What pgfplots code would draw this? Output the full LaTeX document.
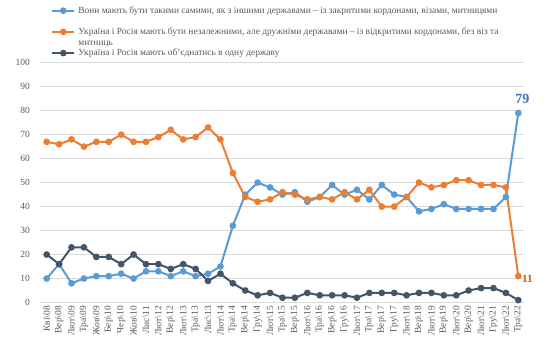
\documentclass[border=0pt]{standalone}
\usepackage{fontspec}
\setmainfont{Liberation Serif}
\usepackage{pgfplots}
\pgfplotsset{compat=1.18}
\definecolor{sblue}{HTML}{5B9BD5}
\definecolor{sorange}{HTML}{ED7D31}
\definecolor{sdark}{HTML}{44546A}
\definecolor{txt}{HTML}{595959}
\definecolor{gridc}{HTML}{D9D9D9}
\definecolor{lblue}{HTML}{3A74B2}
\definecolor{lorange}{HTML}{C55A11}
\newcommand\ls{\rule[-3pt]{0pt}{10.4pt}}
\begin{document}
\begin{tikzpicture}
\begin{axis}[
 name=ax,
 scale only axis, width=484pt, height=239.8pt,
 xmin=-0.5, xmax=38.5, ymin=0, ymax=100,
 clip=false,
 axis line style={draw=none},
 ytick={0,10,...,100},
 ymajorgrids, grid style={gridc, line width=0.75pt},
 xtick={0,...,38},
 xticklabels={Кві\textbackslash{}08,Вер\textbackslash{}08,Лют\textbackslash{}09,Тра\textbackslash{}09,Жов\textbackslash{}09,Бер\textbackslash{}10,Чер\textbackslash{}10,Жов\textbackslash{}10,Лис\textbackslash{}11,Лют\textbackslash{}12,Вер\textbackslash{}12,Лют\textbackslash{}13,Тра\textbackslash{}13,Лис\textbackslash{}13,Лют\textbackslash{}14,Тра\textbackslash{}14,Вер\textbackslash{}14,Гру\textbackslash{}14,Лют\textbackslash{}15,Тра\textbackslash{}15,Вер\textbackslash{}15,Лют\textbackslash{}16,Тра\textbackslash{}16,Вер\textbackslash{}16,Гру\textbackslash{}16,Лют\textbackslash{}17,Тра\textbackslash{}17,Вер\textbackslash{}17,Гру\textbackslash{}17,Лют\textbackslash{}18,Вер\textbackslash{}18,Лют\textbackslash{}19,Вер\textbackslash{}19,Лют\textbackslash{}20,Вер\textbackslash{}20,Лют\textbackslash{}21,Гру\textbackslash{}21,Лют\textbackslash{}22,Тра\textbackslash{}22},
 x tick label style={rotate=90, anchor=east, font=\fontsize{9.5}{10}\selectfont, text=txt},
 y tick label style={font=\fontsize{9.5}{10}\selectfont, text=txt, xshift=-7pt},
 major tick length=0pt,
 /pgf/number format/assume math mode=true,
 legend image code/.code={\draw[mark repeat=2,mark phase=2] plot coordinates {(0cm,0cm) (0.39cm,0cm) (0.78cm,0cm)};},
 legend cell align=left,
 legend style={at={(0.0217,1)}, anchor=south west, yshift=5pt, draw=none, fill=none,
   font=\fontsize{9.4}{10.4}\selectfont, row sep=1.7pt, column sep=3pt, inner sep=0pt,
   nodes={inner sep=0pt, text=txt}, cells={anchor=west}},
 every axis plot/.append style={line width=2pt, mark=*, mark size=2.3pt},
]
\addplot[sblue, mark options={fill=sblue, draw=sblue}] coordinates {
(0,10)(1,16)(2,8)(3,10)(4,11)(5,11)(6,12)(7,10)(8,13)(9,13)(10,11)(11,13)(12,11)(13,12)(14,15)(15,32)(16,45)(17,50)(18,48)(19,45)(20,46)(21,42)(22,44)(23,49)(24,45)(25,47)(26,43)(27,49)(28,45)(29,44)(30,38)(31,39)(32,41)(33,39)(34,39)(35,39)(36,39)(37,44)(38,79)};
\addlegendentry{\ls Вони мають бути такими самими, як з іншими державами – із закритими кордонами, візами, митницями}
\addlegendimage{empty legend}
\addlegendentry{\ls}
\addplot[sorange, mark options={fill=sorange, draw=sorange}] coordinates {
(0,67)(1,66)(2,68)(3,65)(4,67)(5,67)(6,70)(7,67)(8,67)(9,69)(10,72)(11,68)(12,69)(13,73)(14,68)(15,54)(16,44)(17,42)(18,43)(19,46)(20,45)(21,43)(22,44)(23,43)(24,46)(25,43)(26,47)(27,40)(28,40)(29,44)(30,50)(31,48)(32,49)(33,51)(34,51)(35,49)(36,49)(37,48)(38,11)};
\addlegendentry{\ls Україна і Росія мають бути незалежними, але дружніми державами – із відкритими кордонами, без віз та}
\addlegendimage{empty legend}
\addlegendentry{\ls митниць}
\addplot[sdark, mark options={fill=sdark, draw=sdark}] coordinates {
(0,20)(1,16)(2,23)(3,23)(4,19)(5,19)(6,16)(7,20)(8,16)(9,16)(10,14)(11,16)(12,14)(13,9)(14,12)(15,8)(16,5)(17,3)(18,4)(19,2)(20,2)(21,4)(22,3)(23,3)(24,3)(25,2)(26,4)(27,4)(28,4)(29,3)(30,4)(31,4)(32,3)(33,3)(34,5)(35,6)(36,6)(37,4)(38,1)};
\addlegendentry{\ls Україна і Росія мають об'єднатись в одну державу}
\node[text=lblue, font=\bfseries\fontsize{14}{14}\selectfont, inner sep=0pt, xshift=4pt, yshift=14.6pt] at (axis cs:38,79) {79};
\node[text=lorange, font=\bfseries\fontsize{11}{11}\selectfont, inner sep=0pt, anchor=west, xshift=3.7pt, yshift=-2.7pt] at (axis cs:38,11) {11};
\end{axis}
\pgfresetboundingbox
\path (ax.south west) ++(-40.5pt,-53.5pt) rectangle ++(552pt,356pt);
\end{tikzpicture}
\end{document}
